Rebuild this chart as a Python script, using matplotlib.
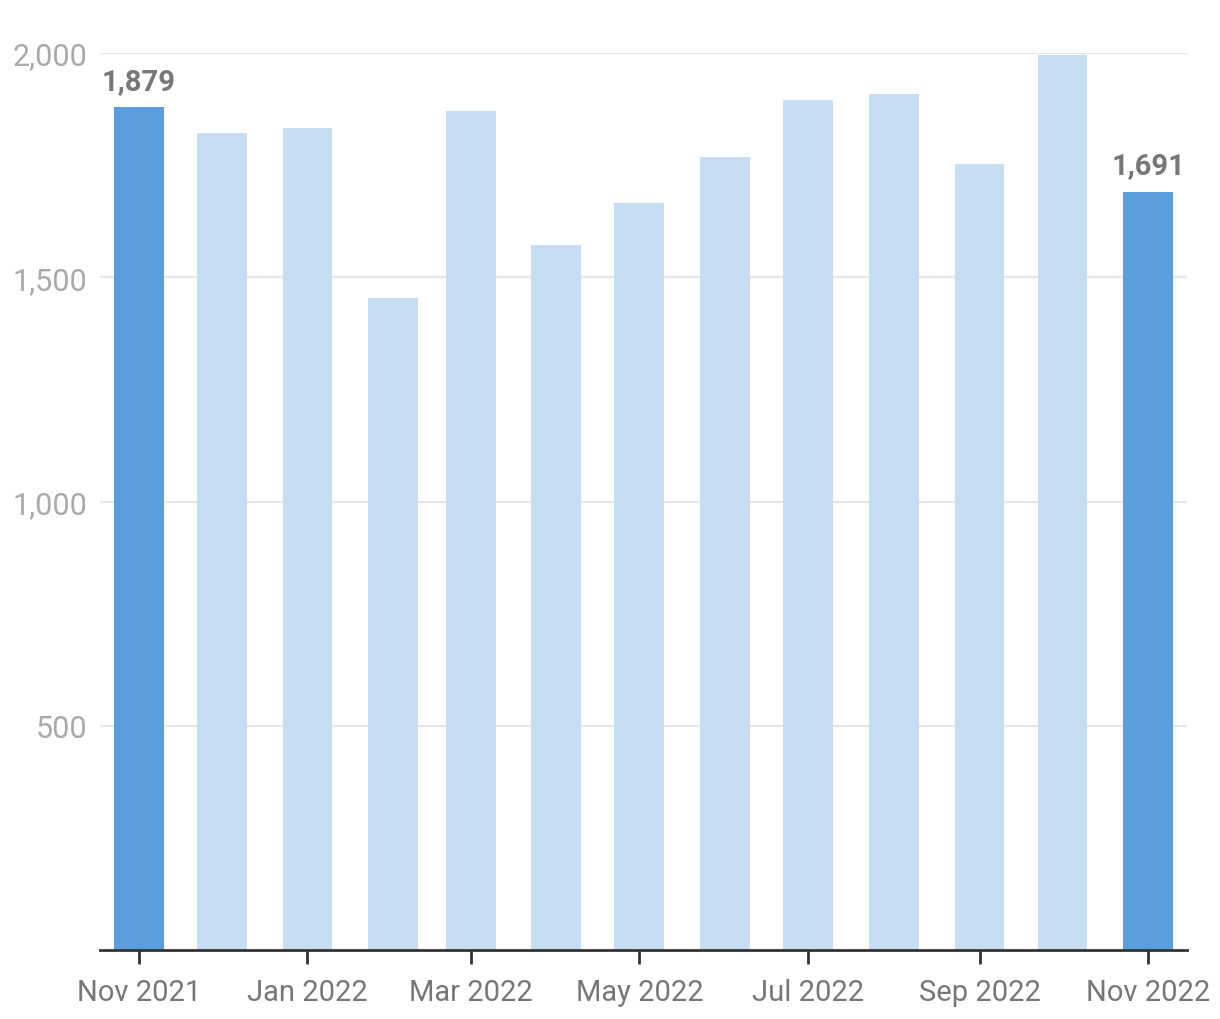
import matplotlib
matplotlib.use("Agg")
import matplotlib.pyplot as plt
import matplotlib.dates as mdates
from matplotlib.ticker import FuncFormatter
import datetime as dt

months = ["2021-11", "2021-12", "2022-01", "2022-02", "2022-03", "2022-04", "2022-05",
          "2022-06", "2022-07", "2022-08", "2022-09", "2022-10", "2022-11"]
values = [1879, 1822, 1833, 1454, 1871, 1572, 1666, 1768, 1895, 1908, 1752, 1995, 1691]
highlight = [True, False, False, False, False, False, False, False, False, False, False, False, True]
tick_months = ["2021-11", "2022-01", "2022-03", "2022-05", "2022-07", "2022-09", "2022-11"]
tick_labels = ["Nov 2021", "Jan 2022", "Mar 2022", "May 2022", "Jul 2022", "Sep 2022", "Nov 2022"]
y_ticks = [500, 1000, 1500, 2000]

plt.rcParams['font.family'] = ['Roboto', 'DejaVu Sans']

def to_date(s):
    y, m = s.split("-")
    return dt.date(int(y), int(m), 1)

dates = [to_date(m) for m in months]
x = mdates.date2num(dates)

fig = plt.figure(figsize=(12.2, 10.2), dpi=100)
ax = fig.add_axes([100/1220, 69/1020, 1087/1220, (951-54)/1020])

colors = ["#5b9edd" if h else "#c6ddf3" for h in highlight]
ax.bar(x, values, width=18, color=colors, zorder=2)

for xi, v, h in zip(x, values, highlight):
    if h:
        ax.text(xi, v + 28, f"{v:,}", ha="center", va="bottom", fontsize=21,
                fontweight="bold", color="#777777")

ax.set_ylim(0, 2000)
ax.set_xlim(mdates.date2num(dt.date(2021, 10, 18)), mdates.date2num(dt.date(2022, 11, 15)))
ax.set_yticks(y_ticks)
ax.yaxis.set_major_formatter(FuncFormatter(lambda v, p: f"{int(v):,}"))
ax.grid(axis="y", color="#e6e6e6", linewidth=1.5, zorder=0)
ax.set_axisbelow(True)

ax.set_xticks(mdates.date2num([to_date(m) for m in tick_months]))
ax.set_xticklabels(tick_labels)

for s in ["top", "right", "left"]:
    ax.spines[s].set_visible(False)
ax.spines["bottom"].set_color("#333333")
ax.spines["bottom"].set_linewidth(2)

ax.tick_params(axis="y", length=0, labelsize=22, labelcolor="#aaaaaa", pad=9)
ax.tick_params(axis="x", length=10, width=2, color="#333333", labelsize=21,
               labelcolor="#777777", pad=10)

fig.savefig("out.png", dpi=100)
